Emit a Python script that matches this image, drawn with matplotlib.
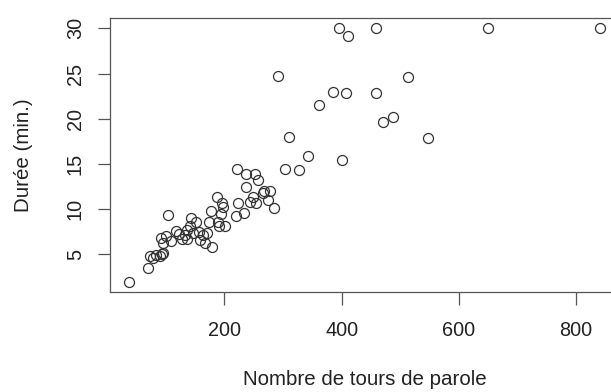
import matplotlib
matplotlib.use('Agg')
from matplotlib import pyplot as plt

# nombre de tours de parole / durée (min.)
tours = [37, 70, 73, 79, 84, 90, 93, 96, 92, 95,
         100, 104, 109, 118, 122, 128, 133, 136, 137, 141,
         143, 147, 152, 157, 158, 164, 167, 170, 174, 177,
         179, 188, 189, 191, 194, 196, 197, 201, 220, 222,
         223, 234, 237, 237, 243, 248, 253, 257, 254, 265,
         268, 277, 274, 284, 291, 303, 311, 327, 343, 362,
         386, 396, 400, 407, 410, 458, 459, 470, 488, 513,
         547, 650, 841]
duree = [2.0, 3.5, 4.8, 4.6, 4.9, 4.8, 5.0, 5.2, 6.8, 6.3,
         7.0, 9.4, 6.5, 7.6, 7.3, 6.7, 7.2, 7.7, 6.7, 8.1,
         9.0, 7.4, 8.6, 7.5, 6.6, 7.1, 6.3, 7.4, 8.6, 9.8,
         5.8, 11.3, 8.6, 8.1, 9.5, 10.7, 10.3, 8.1, 9.2, 14.4,
         10.7, 9.6, 13.9, 12.5, 10.8, 11.4, 13.9, 13.2, 10.7, 11.8,
         12.0, 12.0, 11.0, 10.1, 24.7, 14.4, 18.0, 14.3, 15.9, 21.5,
         23.0, 30.0, 15.4, 22.9, 29.2, 30.0, 22.9, 19.6, 20.2, 24.6,
         17.9, 30.0, 30.0]

xticks = [200, 400, 600, 800]
yticks = [5, 10, 15, 20, 25, 30]

plt.rcParams['font.family'] = ['Liberation Sans', 'DejaVu Sans']

fig = plt.figure(figsize=(6.11, 3.92), dpi=100)
# la boîte dépasse à droite de l'image (comme dans l'original)
ax = fig.add_axes([110/611, (392-291.7)/392, 509/611, 273.4/392])

ax.plot(tours, duree, linestyle='none', marker='o', markersize=7.2,
        markerfacecolor='none', markeredgecolor='#333333', markeredgewidth=0.9)

# étendue à la R (4 %)
dx = (max(tours) - min(tours)) * 0.04
dy = (max(duree) - min(duree)) * 0.04
ax.set_xlim(min(tours) - dx, max(tours) + dx)
ax.set_ylim(min(duree) - dy, max(duree) + dy)

ax.set_xticks(xticks)
ax.set_yticks(yticks)
ax.tick_params(axis='both', direction='out', length=9, width=0.9,
               color='#555555', labelsize=14.3, labelcolor='#222222')
ax.tick_params(axis='x', pad=12)
ax.tick_params(axis='y', pad=9)
for lab in ax.get_yticklabels():
    lab.set_rotation(90)
    lab.set_va('center')

for sp in ax.spines.values():
    sp.set_color('#555555')
    sp.set_linewidth(0.9)

ax.set_xlabel('Nombre de tours de parole', fontsize=14.8, color='#222222', labelpad=22)
ax.set_ylabel('Durée (min.)', fontsize=14.8, color='#222222', labelpad=24)

plt.savefig('out.png', dpi=100)
